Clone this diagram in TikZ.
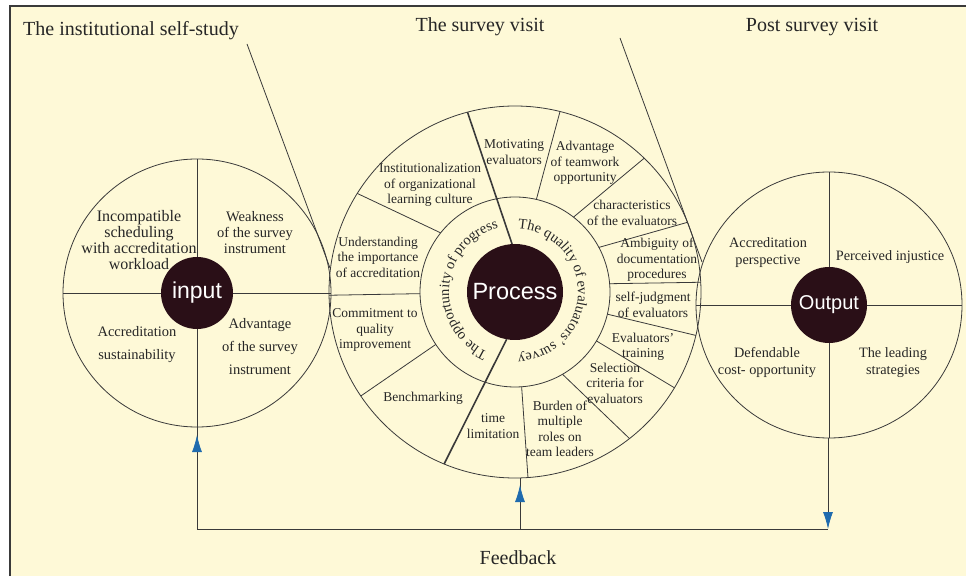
\documentclass[tikz,border=0pt]{standalone}
\usepackage{fontspec}
\setmainfont{Liberation Serif}
\newfontfamily\hubfont{Liberation Sans}
\usetikzlibrary{calc, arrows.meta, decorations.text}

\definecolor{paper}{HTML}{FEF9D7}
\definecolor{hubfill}{HTML}{2A0F17}
\definecolor{feedblue}{HTML}{1F6BAE}
\definecolor{rim}{HTML}{3A3A3A}
\definecolor{ink}{HTML}{262626}

\newcommand{\curvefont}{\fontsize{14.5}{15}\selectfont}

\tikzset{
  rimline/.style={draw=rim, line width=0.8pt},
  thickline/.style={draw=rim, line width=1.6pt},
  hub/.style={circle, fill=hubfill, text=white, inner sep=0pt},
  title/.style={text=ink, font=\fontsize{20}{22}\selectfont},
  seg/.style={align=center, text=ink, font=\fontsize{13.5}{15.5}\selectfont},
  inseg/.style={align=center, text=ink, font=\fontsize{14.5}{16}\selectfont},
  wideseg/.style={align=center, text=ink, font=\fontsize{14.5}{23}\selectfont},
  outseg/.style={align=center, text=ink, font=\fontsize{14.3}{17}\selectfont},
  feedarrow/.style={draw=rim, line width=0.8pt, -{Latex[length=17pt, width=10pt, color=feedblue]}}
}

\begin{document}
\begin{tikzpicture}[x=1pt, y=1pt]
\useasboundingbox (0,0) rectangle (966,576);
% Draw paper and frame
\fill[white] (0,0) rectangle (966,576);
\fill[paper] (10,0) rectangle (966,570);
\draw[rim, line width=1.2pt] (10,0) -- (10,570) -- (966,570);
\coordinate (I) at (197,283);
\coordinate (P) at (515,284);
\coordinate (O) at (829,271);
% Draw titles and their ticks
\node[title] (selfstudy) at (131,545) {The institutional self-study};
\node[title] (visit) at (480,549) {The survey visit};
\node[title] (postvisit) at (812,549) {Post survey visit};
\coordinate (studytop) at (247,532);
\coordinate (studyfoot) at (330,308);
\coordinate (posttop) at (620,538);
\coordinate (postfoot) at (702,314);
\draw[rimline] (studytop) -- (studyfoot);
\draw[rimline] (posttop) -- (postfoot);
% Draw the three wheels
\draw[rimline] (I) circle [radius=134];
\draw[rimline] (P) circle [radius=186];
\draw[rimline] (P) circle [radius=95];
\draw[rimline] (O) circle [radius=133];
\foreach \a in {0,90,180,270} {
  \draw[rimline] ($(I)+(\a:36)$) -- ($(I)+(\a:134)$);
  \draw[rimline] ($(O)+(\a:38)$) -- ($(O)+(\a:133)$);
}
% Draw sector lines of the process ring
\foreach \ai/\ao in {77/76, 52/46, 28/22, 5/3, -13.5/-13.5, -31/-31, -60/-52, -86/-86, 213.5/214, 181/181, 141.5/148}
  \draw[rimline] ($(P)+(\ai:95)$) -- ($(P)+(\ao:186)$);
\draw[thickline] ($(P)+(93.5:48)$) -- ($(P)+(104.8:186)$);
\draw[thickline] ($(P)+(260:48)$) -- ($(P)+(247.6:186)$);
% Hubs
\node[hub, minimum size=72pt, font=\hubfont\fontsize{23}{23}\selectfont] (input) at (I) {input};
\node[hub, minimum size=96pt, font=\hubfont\fontsize{23.5}{24}\selectfont] (process) at (P) {Process};
\node[hub, minimum size=76pt, font=\hubfont\fontsize{20}{20}\selectfont] (output) at (O) {Output};
% Curved texts round the process hub
\path[decorate, decoration={text along path, text align=center,
  text={|\curvefont\color{ink}|The opportunity of progress}}]
  ($(P)+(249:66)$) arc[start angle=249, end angle=101, radius=66];
\path[decorate, decoration={text along path, text align=center,
  text={|\curvefont\color{ink}|The quality of evaluators' survey}}]
  ($(P)+(90:63)$) arc[start angle=90, end angle=-90, radius=63];
% Input sectors
\node[inseg, font=\fontsize{16}{16}\selectfont] (incompat) at (139,336) {Incompatible\\scheduling\\with accreditation\\workload};
\node[inseg] (weakness) at (255,343) {Weakness\\of the survey\\instrument};
\node[wideseg] (sustain) at (137,231) {Accreditation\\sustainability};
\node[wideseg] (advsurvey) at (260,229) {Advantage\\of the survey\\instrument};
% Process sectors
\node[seg] (motiv) at (514,424) {Motivating\\evaluators};
\node[seg] (teamwork) at (585,413) {Advantage\\of teamwork\\opportunity};
\node[seg] (instit) at (430,391) {Institutionalization\\of organizational\\learning culture};
\node[seg] (understand) at (378,319) {Understanding\\the importance\\of accreditation};
\node[seg] (commit) at (375,246) {Commitment to\\quality\\improvement};
\node[seg] (bench) at (423,178) {Benchmarking};
\node[seg] (timelim) at (493,150) {time\\limitation};
\node[seg] (burden) at (560,147) {Burden of\\multiple\\roles on\\team leaders};
\node[seg] (character) at (632,363) {characteristics\\of the evaluators};
\node[seg] (ambig) at (657,316) {Ambiguity of\\documentation\\procedures};
\node[seg] (selfjudge) at (653,271) {self-judgment\\of evaluators};
\node[seg] (training) at (643,229) {Evaluators'\\training};
\node[seg] (selection) at (615,193) {Selection\\criteria for\\evaluators};
% Output sectors
\node[outseg] (persp) at (768,323) {Accreditation\\perspective};
\node[outseg] (injustice) at (890,319) {Perceived injustice};
\node[outseg] (costopp) at (767,213) {Defendable\\cost- opportunity};
\node[outseg] (leading) at (893,213) {The leading\\strategies};
% Feedback loop
\coordinate (fbL) at (197,47);
\coordinate (fbM) at (520,47);
\coordinate (fbR) at (828,47);
\coordinate (infoot) at (197,149);
\coordinate (procfoot) at (520,98);
\coordinate (outfoot) at (828,138);
\draw[rimline] (fbL) -- (fbR);
\draw[rimline] (fbL) -- (infoot);
\draw[feedarrow] (fbL) -- ($(infoot)+(0,-8)$);
\draw[rimline] (fbM) -- (procfoot);
\draw[feedarrow] (fbM) -- ($(procfoot)+(0,-7)$);
\draw[feedarrow] (outfoot) -- (fbR);
\node[title] (feedback) at (518,18) {Feedback};
\end{tikzpicture}
\end{document}
